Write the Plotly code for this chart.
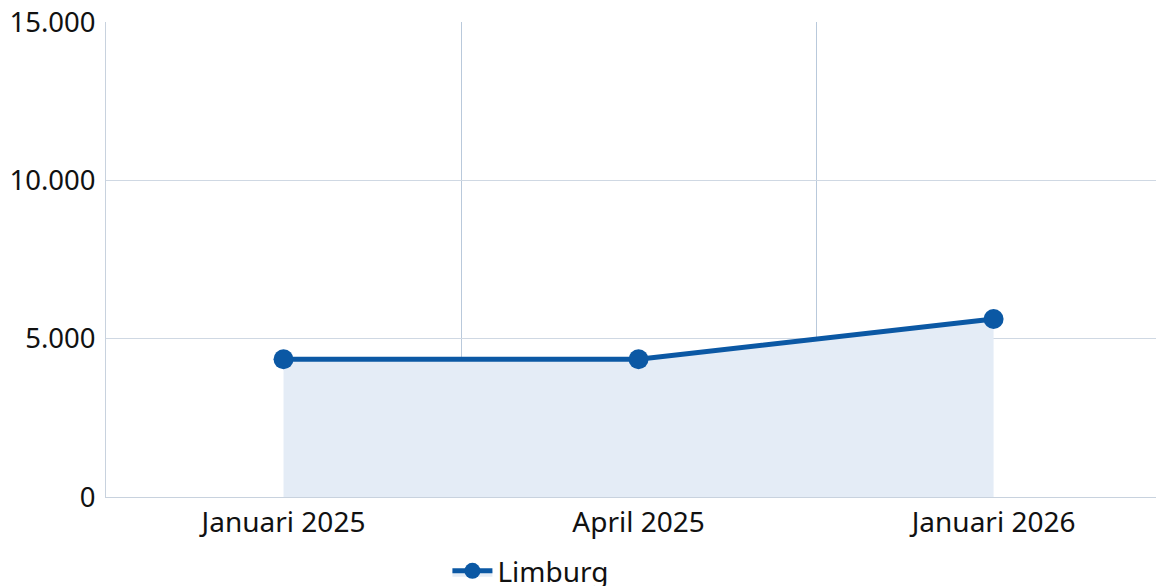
import plotly.graph_objects as go

categories = ["Januari 2025", "April 2025", "Januari 2026"]
values = [4350, 4350, 5620]
series_name = "Limburg"
y_ticks = [0, 5000, 10000, 15000]

fig = go.Figure()
fig.add_trace(go.Scatter(
    x=categories, y=values, name=series_name,
    mode="lines+markers", fill="tozeroy",
    fillcolor="#e4ecf6",
    line=dict(color="#0b58a4", width=5),
    marker=dict(color="#0b58a4", size=20),
))

fig.update_layout(
    width=1156, height=578,
    margin=dict(l=98, r=0, t=14, b=89, autoexpand=False),
    paper_bgcolor="white", plot_bgcolor="white",
    separators=",.",
    font=dict(family="Noto Sans, Open Sans, sans-serif", size=28, color="#111111"),
    showlegend=True,
    legend=dict(orientation="h", x=0.3227, xanchor="left", y=-0.156, yanchor="middle",
                itemwidth=40,
                font=dict(size=28), bgcolor="rgba(0,0,0,0)"),
    xaxis=dict(type="category", range=[-0.5, 2.48], tickson="boundaries",
               showgrid=True, gridcolor="#b9c9db", gridwidth=1,
               showline=True, linecolor="#c8d2de", linewidth=1,
               ticks="", zeroline=False, automargin=False),
    yaxis=dict(range=[0, 15000], tickvals=y_ticks, tickformat=",d",
               showgrid=True, gridcolor="#cfd8e3", gridwidth=1,
               showline=True, linecolor="#c8d2de", linewidth=1,
               ticks="", zeroline=False, ticklabelstandoff=4, automargin=False,
               ticklabeloverflow="allow", tickfont=dict(size=27.5)),
)

fig.write_html("out.html")
